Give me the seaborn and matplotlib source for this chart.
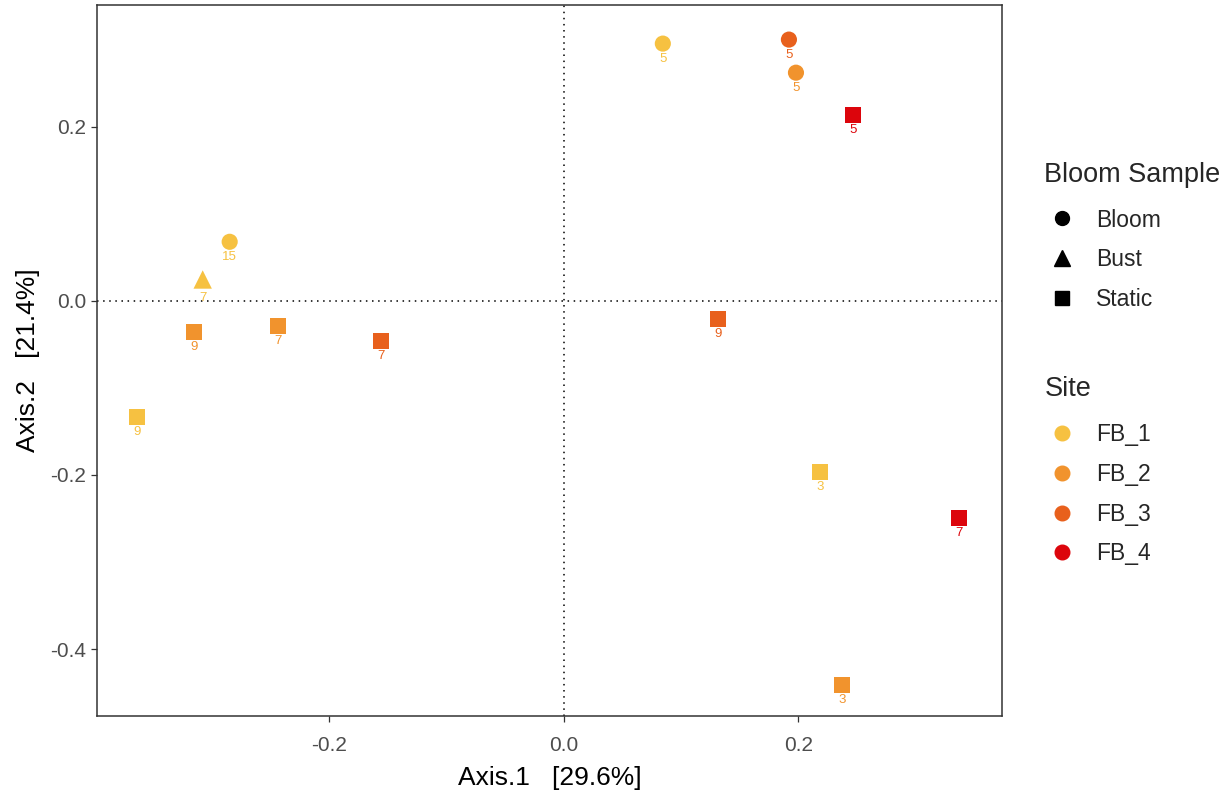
import matplotlib
matplotlib.use("Agg")
import matplotlib.pyplot as plt
from matplotlib.lines import Line2D
import seaborn as sns
import pandas as pd

axis1 = [0.0844, 0.1919, 0.1979, 0.2465, -0.2849, -0.3079, -0.3156, -0.2439,
         -0.1561, -0.3642, 0.1313, 0.2183, 0.3369, 0.2371]
axis2 = [0.2954, 0.3000, 0.2620, 0.2138, 0.0678, 0.0245, -0.0356, -0.0287,
         -0.0460, -0.1333, -0.0207, -0.1966, -0.2494, -0.4414]
site = ["FB_1", "FB_3", "FB_2", "FB_4", "FB_1", "FB_1", "FB_2", "FB_2",
        "FB_3", "FB_1", "FB_3", "FB_1", "FB_4", "FB_2"]
bloom = ["Bloom", "Bloom", "Bloom", "Static", "Bloom", "Bust", "Static", "Static",
         "Static", "Static", "Static", "Static", "Static", "Static"]
labels = ["5", "5", "5", "5", "15", "7", "9", "7", "7", "9", "9", "3", "7", "3"]

site_levels = ["FB_1", "FB_2", "FB_3", "FB_4"]
bloom_levels = ["Bloom", "Bust", "Static"]
palette = {"FB_1": "#F6C141", "FB_2": "#F1932D", "FB_3": "#E8601C", "FB_4": "#DC050C"}
markers = {"Bloom": "o", "Bust": "^", "Static": "s"}
marker_sizes = {"Bloom": 135, "Bust": 175, "Static": 135}
label_offset = {"Bloom": -6.5, "Bust": -9.0, "Static": -6.5}

df = pd.DataFrame({"Axis.1": axis1, "Axis.2": axis2, "Site": site,
                   "Bloom Sample": bloom, "label": labels})

sns.set_theme(style="white")
plt.rcParams["font.family"] = ["Liberation Sans", "DejaVu Sans"]

fig = plt.figure(figsize=(12.28, 7.94), dpi=100)
ax = fig.add_axes([0.079, 0.098, 0.737, 0.896])

sns.scatterplot(data=df, x="Axis.1", y="Axis.2", hue="Site", style="Bloom Sample",
                size="Bloom Sample", sizes=marker_sizes,
                hue_order=site_levels, style_order=bloom_levels,
                palette=palette, markers=markers, linewidth=0,
                legend=False, ax=ax, zorder=3)

for _, r in df.iterrows():
    ax.annotate(r["label"], (r["Axis.1"], r["Axis.2"]),
                xytext=(0, label_offset[r["Bloom Sample"]]),
                textcoords="offset points", ha="center", va="top",
                fontsize=9.5, color=palette[r["Site"]], zorder=4)

ax.axvline(0, color="black", linestyle=(0, (1, 3)), linewidth=1.1, zorder=1)
ax.axhline(0, color="black", linestyle=(0, (1, 3)), linewidth=1.1, zorder=1)

ax.set_xlim(-0.398, 0.3736)
ax.set_ylim(-0.477, 0.340)
ax.set_xticks([-0.2, 0.0, 0.2])
ax.set_yticks([-0.4, -0.2, 0.0, 0.2])
ax.set_xticklabels(["-0.2", "0.0", "0.2"])
ax.set_yticklabels(["-0.4", "-0.2", "0.0", "0.2"])
ax.tick_params(axis="both", which="both", length=4, width=0.9, color="#333333",
               labelsize=15, labelcolor="#4D4D4D", direction="out",
               bottom=True, left=True, pad=4)
ax.tick_params(axis="x", pad=10)
for sp in ax.spines.values():
    sp.set_color("#333333")
    sp.set_linewidth(1.1)
ax.set_xlabel("Axis.1   [29.6%]", fontsize=19, color="black", labelpad=8)
ax.set_ylabel("Axis.2   [21.4%]", fontsize=19, color="black", labelpad=7)
ax.grid(False)

h1 = [Line2D([], [], marker=markers[b], color="black", linestyle="none",
             markersize=10 if b != "Bust" else 11) for b in bloom_levels]
leg1 = fig.legend(h1, bloom_levels, title="Bloom Sample", loc="upper left",
                  bbox_to_anchor=(0.843, 0.808), frameon=False, fontsize=16.5,
                  title_fontsize=19.5, labelspacing=0.73, handletextpad=0.7,
                  handlelength=1.55, borderaxespad=0)
leg1._legend_box.align = "left"
leg1._legend_box.sep += 3.0

h2 = [Line2D([], [], marker="o", color=palette[s], linestyle="none",
             markersize=10.5) for s in site_levels]
leg2 = fig.legend(h2, site_levels, title="Site", loc="upper left",
                  bbox_to_anchor=(0.843, 0.5385), frameon=False, fontsize=16.5,
                  title_fontsize=19.5, labelspacing=0.73, handletextpad=0.7,
                  handlelength=1.55, borderaxespad=0)
leg2._legend_box.align = "left"
leg2._legend_box.sep += 3.5

fig.savefig("out.png", dpi=100)
